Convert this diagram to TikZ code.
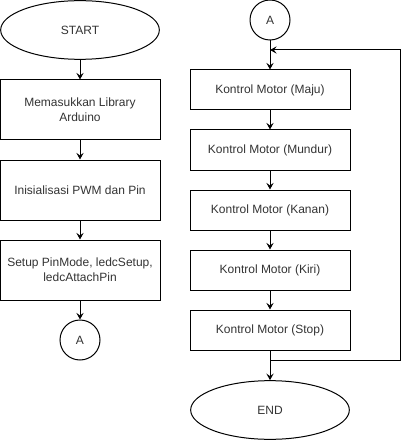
\documentclass[tikz,border=0pt]{standalone}
\usepackage{fontspec}
\setmainfont{Liberation Sans}
\usetikzlibrary{shapes,arrows.meta}
\tikzstyle{bx}=[rectangle,draw=black,line width=.75pt,minimum width=120pt,minimum height=45pt,inner sep=1pt,align=center,font=\fontsize{9}{11.5}\selectfont,text=black!80]
\tikzstyle{el}=[ellipse,draw=black,line width=.75pt,minimum width=119pt,minimum height=44pt,inner sep=0pt,font=\fontsize{9}{11}\selectfont,text=black!80]
\tikzstyle{cn}=[circle,draw=black,line width=.75pt,minimum size=30pt,inner sep=0pt,font=\fontsize{9}{11}\selectfont,text=black!80]
\tikzstyle{ln}=[line width=.75pt,-{Stealth[length=5pt,width=5.5pt,inset=2pt]}]

\begin{document}
\begin{tikzpicture}[x=0.75pt,y=-0.75pt]
\useasboundingbox (0,0) rectangle (409,442);
% kolom kiri
\node[el] (start) at (80,30) {START};
\node[bx] (lib) at (80,110) {Memasukkan Library\\Arduino};
\node[bx] (init) at (80,190) {Inisialisasi PWM dan Pin};
\node[bx] (setup) at (80,270) {Setup PinMode, ledcSetup,\\ledcAttachPin};
\node[cn] (a1) at (80,340) {A};
\draw[ln] (start) -- (lib);
\draw[ln] (lib) -- (init);
\draw[ln] (init) -- (setup);
\draw[ln] (setup) -- (a1);
% kolom kanan
\node[cn] (a2) at (270,20) {A};
\node[bx,minimum height=30pt] (maju) at (270,90) {Kontrol Motor (Maju)};
\node[bx,minimum height=30pt] (mundur) at (270,150) {Kontrol Motor (Mundur)};
\node[bx,minimum height=30pt] (kanan) at (270,210) {Kontrol Motor (Kanan)};
\node[bx,minimum height=30pt] (kiri) at (270,270) {Kontrol Motor (Kiri)};
\node[bx,minimum height=30pt] (stop) at (270,330) {Kontrol Motor (Stop)};
\node[el] (end) at (270,410) {END};
\coordinate (jn) at (270,360);
\coordinate (jt) at (270,50);
\draw[ln] (a2) -- (maju);
\draw[ln] (maju) -- (mundur);
\draw[ln] (mundur) -- (kanan);
\draw[ln] (kanan) -- (kiri);
\draw[ln] (kiri) -- (stop);
\draw[ln] (stop) -- (end);
\draw[ln] (jn) -- (400,360) -- (400,50) -- (jt);
\end{tikzpicture}
\end{document}
